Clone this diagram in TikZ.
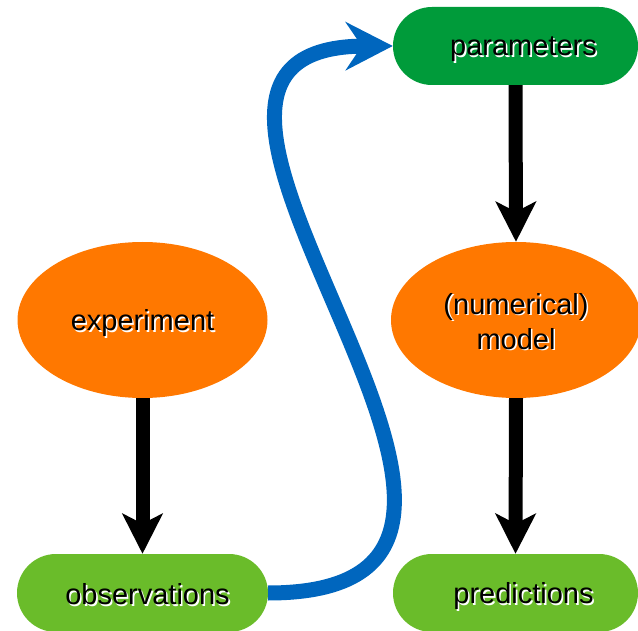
\documentclass[tikz,border=0pt]{standalone}
\usepackage{fontspec}
\setmainfont{Liberation Sans}
\usetikzlibrary{shapes.geometric,arrows.meta}
\definecolor{darkgreen}{RGB}{0,155,58}
\definecolor{lightgreen}{RGB}{106,188,42}
\definecolor{orangefill}{RGB}{255,120,0}
\definecolor{bluearrow}{RGB}{0,102,190}
\newcommand{\shtext}[1]{\leavevmode\rlap{\kern1.6pt\raisebox{-1.6pt}{\textcolor{white}{#1}}}#1}
\newcommand{\lowerby}[2]{\raisebox{-#1}[\height][\depth]{#2}}
\tikzset{
  pill/.style={rectangle, rounded corners=39pt, minimum width=245pt, minimum height=78pt, inner sep=0pt, draw=none, font=\fontsize{29}{35}\selectfont},
  oval/.style={ellipse, fill=orangefill, minimum width=250pt, minimum height=156pt, inner sep=0pt, draw=none, font=\fontsize{29}{35}\selectfont, align=center},
  blackarrow/.style={line width=14pt, black, -{Stealth[length=40pt, width=40pt, inset=10pt]}},
  bluecurve/.style={line width=15pt, bluearrow, -{Stealth[length=47pt, width=48pt, inset=16pt]}},
}
\begin{document}
\begin{tikzpicture}[x=1pt,y=-1pt]
\useasboundingbox (0,0) rectangle (638,631);
\node[pill, fill=darkgreen] (params) at (515.5,46) {\lowerby{4pt}{\hspace*{16pt}\shtext{parameters}}};
\node[oval] (model) at (516,320) {\lowerby{2pt}{\shtext{(numerical)}}\\\lowerby{2pt}{\shtext{model}}};
\node[pill, fill=lightgreen] (pred) at (515.5,593) {\lowerby{4pt}{\hspace*{16pt}\shtext{predictions}}};
\node[oval] (exper) at (142.5,320) {\lowerby{4pt}{\shtext{experiment}}};
\node[pill, fill=lightgreen, minimum width=251pt] (obs) at (142.5,593) {\lowerby{2pt}{\hspace*{10pt}\shtext{observations}}};
\draw[blackarrow] (exper.south) -- (obs.north);
\draw[blackarrow] (params.south) -- (model.north);
\draw[blackarrow] (model.south) -- (pred.north);
\draw[bluecurve] (obs.east) .. controls (630,593) and (68,47) .. (params.west);
\end{tikzpicture}
\end{document}
